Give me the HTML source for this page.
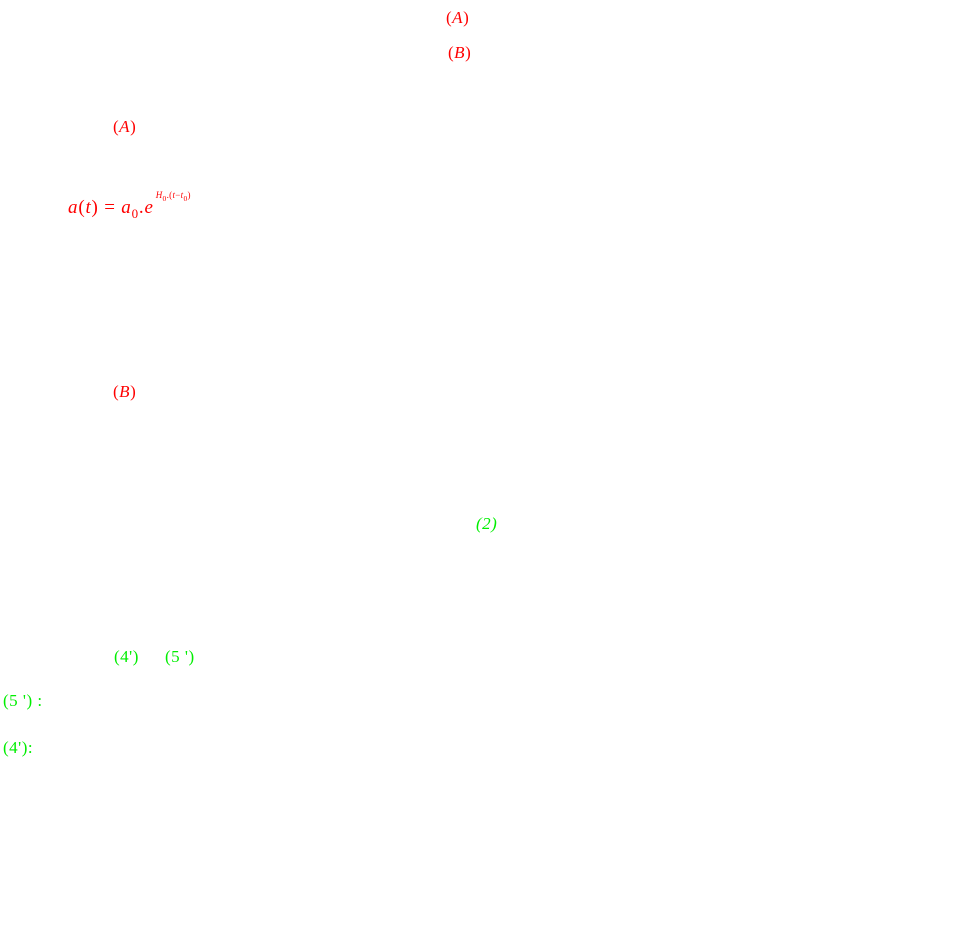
<!DOCTYPE html>
<html><head><meta charset="utf-8"><style>
body{margin:0;width:970px;height:943px;background:#fff;position:relative;overflow:hidden;font-family:"Liberation Serif",serif;}
.t{position:absolute;white-space:nowrap;font-size:17px;line-height:17px;letter-spacing:0.5px;}
.r{color:#ff0000}.g{color:#00ee00}
i{font-style:italic}
</style></head><body>
<div class="t r" style="left:446px;top:9px">(<i>A</i>)</div>
<div class="t r" style="left:448px;top:44px">(<i>B</i>)</div>
<div class="t r" style="left:113px;top:118px">(<i>A</i>)</div>
<div class="t r" style="left:68px;top:199px;font-size:19px;letter-spacing:0.8px"><i>a</i>(<i>t</i>) = <i>a</i><sub style="font-size:13px">0</sub>.<i>e</i><span style="font-size:9px;position:relative;top:-15px;left:2px;letter-spacing:0.3px"><i>H</i><sub>0</sub>.(<i>t</i>−<i>t</i><sub>0</sub>)</span></div>
<div class="t r" style="left:113px;top:383px">(<i>B</i>)</div>
<div class="t g" style="left:476px;top:515px"><i>(2)</i></div>
<div class="t g" style="left:114px;top:648px">(4')</div>
<div class="t g" style="left:165px;top:648px">(5 ')</div>
<div class="t g" style="left:3px;top:692px">(5 ') :</div>
<div class="t g" style="left:3px;top:739px">(4'):</div>
</body></html>
